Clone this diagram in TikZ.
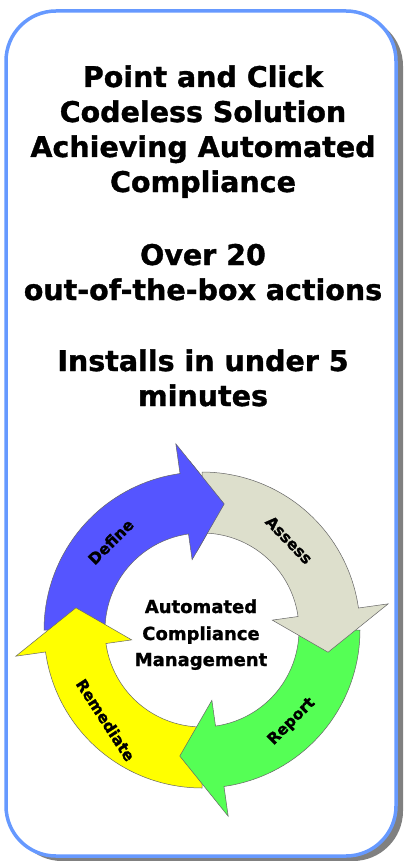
\documentclass[tikz,border=0pt]{standalone}
\usepackage{fontspec}
\setmainfont{DejaVu Sans}[BoldFeatures={FakeBold=1.2}]
\usetikzlibrary{calc}

\definecolor{frameblue}{RGB}{102,153,255}
\definecolor{shadowgray}{RGB}{128,128,128}
\definecolor{defineblue}{RGB}{85,85,255}
\definecolor{assessgray}{RGB}{221,223,204}
\definecolor{reportgreen}{RGB}{85,255,85}
\definecolor{remedyellow}{RGB}{255,255,0}

% curved arrow of the cycle: #1 colour, #2 tail angle
\newcommand{\ringarrow}[2]{%
  \pgfmathsetmacro\headbase{#2+82}%
  \pgfmathsetmacro\headtip{#2+100}%
  \draw[ringline, fill=#1]
    plot[domain=#2:\headbase, samples=40] (\x:158)
    -- (\headbase:188) -- (\headtip:128) -- (\headbase:71)
    -- plot[domain=\headbase:#2, samples=40] (\x:97) -- cycle;%
}

\begin{document}
\begin{tikzpicture}[x=1pt, y=-1pt,
    ringline/.style={draw=black!60, line width=0.5pt},
    bigtext/.style={font=\bfseries\fontsize{28.5}{35}\selectfont, anchor=base},
    midtext/.style={font=\bfseries\fontsize{18}{26.5}\selectfont, anchor=base},
    steplabel/.style={font=\bfseries\fontsize{15.5}{18}\selectfont}]

    \useasboundingbox (0,0) rectangle (408,861);

    % frame with shadow
    \fill[shadowgray, rounded corners=50] (12,16) rectangle (403,861);
    \filldraw[fill=white, draw=frameblue, line width=3.5, rounded corners=50] (6,11) rectangle (396,856);

    % text at the top
    \node[bigtext] (t1) at (203,87) {Point and Click};
    \node[bigtext] (t2) at (203,122) {Codeless Solution};
    \node[bigtext] (t3) at (203,157) {Achieving Automated};
    \node[bigtext] (t4) at (203,192) {Compliance};
    \node[bigtext] (t5) at (203,265) {Over 20};
    \node[bigtext] (t6) at (203,300) {out-of-the-box actions};
    \node[bigtext] (t7) at (203,371) {Installs in under 5};
    \node[bigtext] (t8) at (203,406) {minutes};

    % cycle, centre (202,630)
    \coordinate (M) at (202,630);
    \begin{scope}[shift={(M)}]
        \ringarrow{defineblue}{180}
        \ringarrow{remedyellow}{90}
        \ringarrow{reportgreen}{0}
        \ringarrow{assessgray}{270}
        % head of Define lies over Assess
        \begin{scope}
            \clip (0,0) -- (266:260) -- (280:270) -- (296:260) -- cycle;
            \ringarrow{defineblue}{180}
        \end{scope}

        \node[steplabel, rotate=45]  (define) at (-91.3,-88.3) {Define};
        \node[steplabel, rotate=-46] (assess) at (87,-90) {Assess};
        \node[steplabel, rotate=45]  (report) at (89.7,91.7) {Report};
        \node[steplabel, rotate=-57] (remed)  at (-96.3,90) {Remediate};
    \end{scope}

    % text in the middle
    \node[midtext] (c1) at (201,613) {Automated};
    \node[midtext] (c2) at (201,640) {Compliance};
    \node[midtext] (c3) at (201,666) {Management};

\end{tikzpicture}
\end{document}
